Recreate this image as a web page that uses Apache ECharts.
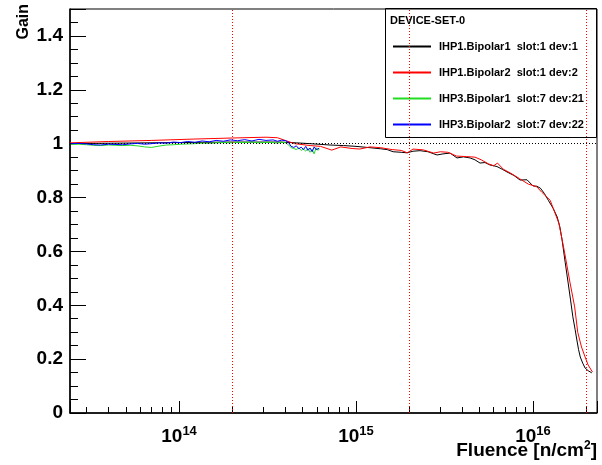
<!DOCTYPE html>
<html><head><meta charset="utf-8">
<script src="https://cdn.jsdelivr.net/npm/echarts@6/dist/echarts.min.js"></script>
<style>html,body{margin:0;padding:0;background:#fff}#c{width:602px;height:465px}</style>
</head><body><div id="c"></div>
<script>
// ---- data ----
const seriesNames = ['IHP1.Bipolar1  slot:1 dev:1', 'IHP1.Bipolar2  slot:1 dev:2', 'IHP3.Bipolar1  slot:7 dev:21', 'IHP3.Bipolar2  slot:7 dev:22'];
const fluenceIHP1a = [2.42e13, 3.2e13, 4.64e13, 6.5e13, 1.0e14, 1.4e14, 1.94e14, 2.7e14, 3.72e14, 4.6e14, 5.5e14, 7.13e14, 8.5e14, 1.0e15, 1.2e15, 1.38e15, 1.5e15, 1.62e15, 1.8e15, 1.94e15, 2.1e15, 2.3e15, 2.55e15, 2.87e15, 3.1e15, 3.4e15, 3.72e15, 4.05e15, 4.41e15, 4.7e15, 5.02e15, 5.35e15, 5.71e15, 6.26e15, 6.7e15, 7.13e15, 7.8e15, 8.45e15, 9.25e15, 1.0e16, 1.05e16, 1.1e16, 1.16e16, 1.22e16, 1.3e16, 1.37e16, 1.42e16, 1.46e16, 1.52e16, 1.58e16, 1.63e16, 1.68e16, 1.73e16, 1.77e16, 1.81e16, 1.85e16, 1.91e16, 1.97e16, 2.05e16, 2.15e16];
const gainIHP1a = [1.0, 1.001, 1.002, 1.003, 1.004, 1.005, 1.006, 1.006, 1.006, 1.003, 1.0, 0.995, 0.993, 0.99, 0.985, 0.981, 0.978, 0.97, 0.968, 0.966, 0.972, 0.974, 0.97, 0.958, 0.962, 0.965, 0.947, 0.951, 0.947, 0.94, 0.928, 0.93, 0.921, 0.915, 0.905, 0.895, 0.882, 0.865, 0.866, 0.843, 0.842, 0.835, 0.815, 0.79, 0.76, 0.728, 0.69, 0.643, 0.56, 0.483, 0.42, 0.357, 0.31, 0.271, 0.235, 0.208, 0.185, 0.167, 0.157, 0.149];
const fluenceIHP1b = [2.42e13, 4.0e13, 7.0e13, 1.2e14, 2.0e14, 3.1e14, 3.6e14, 4.5e14, 5.5e14, 6.3e14, 7.3e14, 8.2e14, 9.5e14, 1.05e15, 1.2e15, 1.38e15, 1.6e15, 1.8e15, 1.95e15, 2.1e15, 2.4e15, 2.75e15, 3.0e15, 3.3e15, 3.7e15, 4.2e15, 4.7e15, 5.1e15, 5.6e15, 6.0e15, 6.3e15, 6.8e15, 7.5e15, 8.4e15, 9.4e15, 1.05e16, 1.12e16, 1.25e16, 1.4e16, 1.5e16, 1.62e16, 1.72e16, 1.79e16, 1.88e16, 1.97e16, 2.05e16, 2.17e16];
const gainIHP1b = [1.003, 1.008, 1.012, 1.017, 1.021, 1.024, 1.022, 1.0, 0.993, 0.99, 0.976, 0.988, 0.982, 0.98, 0.988, 0.985, 0.978, 0.975, 0.966, 0.98, 0.977, 0.965, 0.97, 0.968, 0.954, 0.952, 0.95, 0.94, 0.925, 0.918, 0.928, 0.905, 0.89, 0.87, 0.85, 0.84, 0.82, 0.79, 0.705, 0.605, 0.483, 0.394, 0.3, 0.245, 0.208, 0.178, 0.152];
const fluenceIHP3 = [2.45e13, 2.7e13, 3.0e13, 3.3e13, 3.6e13, 4.0e13, 4.4e13, 4.8e13, 5.3e13, 5.8e13, 6.4e13, 7.0e13, 7.7e13, 8.5e13, 9.3e13, 1.02e14, 1.12e14, 1.23e14, 1.35e14, 1.48e14, 1.62e14, 1.78e14, 1.95e14, 2.14e14, 2.35e14, 2.58e14, 2.83e14, 3.1e14, 3.4e14, 3.6e14, 3.8e14, 4.0e14, 4.15e14, 4.3e14, 4.45e14, 4.6e14, 4.75e14, 4.9e14, 5.05e14, 5.2e14, 5.35e14, 5.5e14, 5.65e14, 5.8e14, 5.95e14, 6.1e14, 6.2e14];
const gainIHP3a = [0.997, 0.998, 0.996, 0.994, 0.993, 0.995, 0.994, 0.993, 0.994, 0.992, 0.988, 0.986, 0.991, 0.995, 0.996, 0.998, 0.999, 1.0, 1.002, 1.001, 1.003, 1.004, 1.003, 1.005, 1.004, 1.006, 1.003, 1.005, 1.004, 1.002, 1.006, 1.003, 0.996, 0.985, 0.982, 0.978, 0.984, 0.975, 0.98, 0.972, 0.983, 0.968, 0.979, 0.962, 0.985, 0.975, 0.98];
const gainIHP3b = [1.0, 1.001, 0.999, 0.996, 0.995, 0.998, 0.997, 0.996, 0.999, 1.001, 0.998, 1.0, 1.003, 1.002, 1.006, 1.004, 1.008, 1.005, 1.01, 1.007, 1.012, 1.009, 1.014, 1.011, 1.015, 1.01, 1.016, 1.012, 1.014, 1.009, 1.013, 1.011, 1.005, 0.99, 0.986, 0.992, 0.981, 0.987, 0.978, 0.99, 0.975, 0.984, 0.97, 0.988, 0.978, 0.985, 0.983];
const refFluence = [2e14, 2e15, 2e16];
const refGain = [1];
const xRange = [2.42e13, 2.30e16];
const yRange = [0, 1.5];
const yTickStep = 0.2;
const legendTitle = 'DEVICE-SET-0';
const xTitle = 'Fluence [n/cm{s|2}]';
const yTitle = 'Gain';

const colors = ['#000000', '#ff0000', '#22dd22', '#0000ff'];
const FONT = '"Liberation Sans", Arial, Helvetica, sans-serif';

function pairs(xs, ys) { return xs.map((x, i) => [x, ys[i]]); }
const dataSets = [pairs(fluenceIHP1a, gainIHP1a), pairs(fluenceIHP1b, gainIHP1b), pairs(fluenceIHP3, gainIHP3a), pairs(fluenceIHP3, gainIHP3b)];

const chart = echarts.init(document.getElementById('c'), null, {renderer: 'canvas'});

const series = [{
  name: 'refs', type: 'line', data: [], z: 1, silent: true,
  markLine: {
    silent: true, symbol: 'none', animation: false,
    label: {show: false},
    data: refFluence.map(v => ({xAxis: v, lineStyle: {color: '#ff0000', type: [1, 2], width: 1}}))
      .concat(refGain.map(v => ({yAxis: v, lineStyle: {color: '#000000', type: [1, 2], width: 1}})))
  }
}].concat(dataSets.map((d, i) => ({
  name: seriesNames[i], type: 'line', data: d, z: 2 + i,
  showSymbol: false, symbol: 'none', animation: false,
  lineStyle: {color: colors[i], width: 1}, itemStyle: {color: colors[i]}
})));

chart.setOption({
  animation: false,
  grid: {left: 70, right: 5, top: 9, bottom: 52, show: true, borderColor: '#000', borderWidth: 1, containLabel: false},
  xAxis: {
    type: 'log', logBase: 10, min: xRange[0], max: xRange[1],
    axisLine: {lineStyle: {color: '#000', width: 1.5}},
    axisTick: {inside: true, length: 12, lineStyle: {color: '#000'}},
    minorTick: {show: true, splitNumber: 9, length: 6, lineStyle: {color: '#000'}},
    splitLine: {show: false},
    axisLabel: {
      showMinLabel: false, showMaxLabel: false, margin: 12,
      formatter: function (v) {
        const e = Math.log10(v); const r = Math.round(e);
        if (Math.abs(e - r) > 1e-6) return '';
        return '{b|10}{s|' + r + '}';
      },
      rich: {
        b: {fontSize: 19, fontWeight: 'bold', fontFamily: FONT, color: '#000', verticalAlign: 'bottom'},
        s: {fontSize: 13, fontWeight: 'bold', fontFamily: FONT, color: '#000', verticalAlign: 'bottom', padding: [0, 0, 8, 0]}
      }
    }
  },
  yAxis: {
    type: 'value', min: yRange[0], max: yRange[1], interval: yTickStep,
    axisLine: {show: true, lineStyle: {color: '#000', width: 1.5}},
    axisTick: {show: true, inside: true, length: 16, lineStyle: {color: '#000'}},
    minorTick: {show: true, splitNumber: 4, length: 8, lineStyle: {color: '#000'}},
    splitLine: {show: false},
    axisLabel: {showMaxLabel: false, margin: 7, fontSize: 19, fontWeight: 'bold', fontFamily: FONT, color: '#000'}
  },
  legend: {
    data: seriesNames, orient: 'vertical', left: 393, top: 41, padding: 0,
    icon: 'rect', itemWidth: 38, itemHeight: 2, itemGap: 15,
    textStyle: {fontSize: 11, fontWeight: 'bold', fontFamily: FONT, color: '#000', padding: [0, 0, 0, 3]}
  },
  graphic: [
    {type: 'rect', z: 0, shape: {x: 385.5, y: 8.5, width: 211, height: 129}, style: {fill: 'none', stroke: '#000', lineWidth: 1}},
    {type: 'text', z: 10, x: 390, y: 21, style: {text: legendTitle, font: 'bold 11px ' + FONT, fill: '#000', verticalAlign: 'middle'}},
    {type: 'text', z: 10, x: 24, y: 4, rotation: Math.PI / 2, style: {text: yTitle, font: 'bold 16px ' + FONT, fill: '#000', align: 'right', verticalAlign: 'middle'}},
    {type: 'text', z: 10, x: 597, y: 451, style: {
      text: xTitle, align: 'right', verticalAlign: 'middle', fill: '#000', font: 'bold 19px ' + FONT,
      rich: {s: {fontSize: 12, fontWeight: 'bold', fontFamily: FONT, fill: '#000', padding: [0, 0, 10, 0]}}
    }}
  ],
  series: series
});
</script></body></html>
